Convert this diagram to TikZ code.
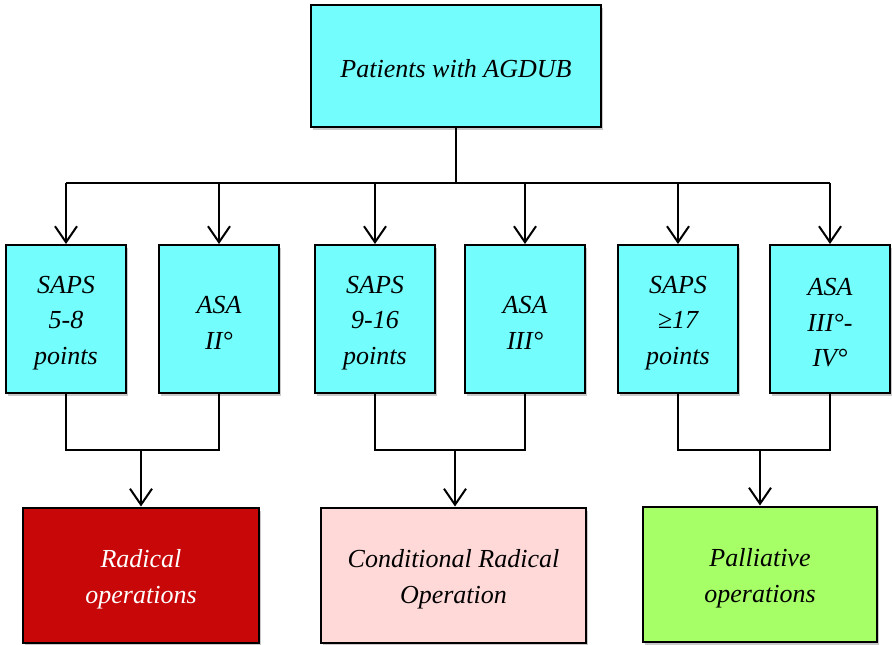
\documentclass[tikz,border=0pt]{standalone}
\usepackage{fontspec}
\setmainfont{Liberation Serif}
\usetikzlibrary{arrows.meta,shadows}
\definecolor{boxcyan}{RGB}{115,253,253}
\definecolor{boxred}{RGB}{200,8,8}
\definecolor{boxpink}{RGB}{255,216,216}
\definecolor{boxgreen}{RGB}{166,255,102}
\tikzset{
  box/.style={draw=black, line width=2pt, fill=boxcyan,
    drop shadow={shadow xshift=2pt, shadow yshift=-3pt, opacity=0.35, fill=black!60}},
  txt/.style={align=center, inner sep=0pt, yshift=-4pt,
    font=\fontsize{26}{35.5}\selectfont\itshape},
  midbox/.style={box, minimum width=120pt, minimum height=148pt},
  endbox/.style={box, minimum height=135pt},
  conn/.style={line width=2pt},
  arr/.style={conn, -{Straight Barb[length=16pt,width=22pt,line width=2pt]}}
}
\begin{document}
\begin{tikzpicture}[x=1pt,y=-1pt]
\useasboundingbox (0,0) rectangle (892,645);
\node[box, minimum width=290pt, minimum height=122pt,
  label={[txt,yshift=1pt]center:Patients with AGDUB}] (top) at (456,66) {};

\node[midbox, label={[txt]center:SAPS\\5-8\\points}] (b1) at (66,319) {};
\node[midbox, label={[txt]center:ASA\\ II°}] (b2) at (219,319) {};
\node[midbox, label={[txt]center:SAPS\\9-16\\points}] (b3) at (375,319) {};
\node[midbox, label={[txt]center:ASA\\ III°}] (b4) at (525,319) {};
\node[midbox, label={[txt]center:SAPS\\≥17\\points}] (b5) at (678,319) {};
\node[midbox, label={[txt]center:ASA\\III°-\\IV°}] (b6) at (830,319) {};

\node[endbox, minimum width=236pt, fill=boxred,
  label={[txt,text=white]center:Radical\\operations}] (rA) at (141,575) {};
\node[endbox, minimum width=265pt, fill=boxpink,
  label={[txt]center:Conditional Radical\\Operation}] (rB) at (453.5,575) {};
\node[endbox, minimum width=234pt, fill=boxgreen,
  label={[txt]center:Palliative\\operations}] (rC) at (760,574) {};

\coordinate (bus) at (456,183);
\draw[conn] (top.south) -- (bus);
\draw[conn] (b1.north |- bus) -- (b6.north |- bus);
\foreach \b in {b1,b2,b3,b4,b5,b6}
  \draw[arr] (\b.north |- bus) -- (\b.north);

\coordinate (m1) at (141,450);
\coordinate (m2) at (455,450);
\coordinate (m3) at (760,450);
\draw[conn] (b1.south) -- (b1.south |- m1) -- (b2.south |- m1) -- (b2.south);
\draw[conn] (b3.south) -- (b3.south |- m2) -- (b4.south |- m2) -- (b4.south);
\draw[conn] (b5.south) -- (b5.south |- m3) -- (b6.south |- m3) -- (b6.south);
\draw[arr] (m1) -- (m1 |- rA.north);
\draw[arr] (m2) -- (m2 |- rB.north);
\draw[arr] (m3) -- (m3 |- rC.north);
\end{tikzpicture}
\end{document}
